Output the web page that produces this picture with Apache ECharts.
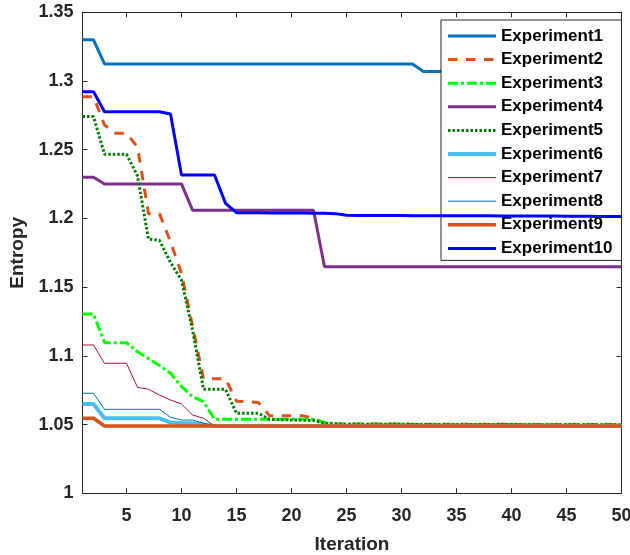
<!DOCTYPE html>
<html>
<head>
<meta charset="utf-8">
<script src="https://cdn.jsdelivr.net/npm/echarts@6/dist/echarts.min.js"></script>
<style>
  html, body { margin: 0; padding: 0; background: #fff; }
  #chart { width: 630px; height: 555px; }
</style>
</head>
<body>
<div id="chart"></div>
<script>
// iteration numbers 1..50
var iterations = [];
for (var i = 1; i <= 50; i++) iterations.push(String(i));

var yTicks = { min: 1, max: 1.35, step: 0.05 };

var exp1 = [1.33, 1.33, 1.3124, 1.3124, 1.3124, 1.3124, 1.3124, 1.3124, 1.3124, 1.3124,
  1.3124, 1.3124, 1.3124, 1.3124, 1.3124, 1.3124, 1.3124, 1.3124, 1.3124, 1.3124,
  1.3124, 1.3124, 1.3124, 1.3124, 1.3124, 1.3124, 1.3124, 1.3124, 1.3124, 1.3124,
  1.3124, 1.307, 1.307, 1.307, 1.307, 1.307, 1.307, 1.307, 1.307, 1.307,
  1.302, 1.302, 1.302, 1.302, 1.302, 1.302, 1.302, 1.302, 1.302, 1.302];
var exp2 = [1.2886, 1.2886, 1.268, 1.262, 1.262, 1.252, 1.2035, 1.2035, 1.183, 1.160,
  1.122, 1.0834, 1.0834, 1.0834, 1.067, 1.0667, 1.066, 1.0565, 1.0565, 1.0565,
  1.0565, 1.0545, 1.051, 1.0505, 1.0504, 1.0504, 1.0504, 1.0504, 1.0504, 1.0504,
  1.0502, 1.0502, 1.0502, 1.0502, 1.0502, 1.0502, 1.0502, 1.0502, 1.0502, 1.0502,
  1.050, 1.050, 1.050, 1.050, 1.050, 1.050, 1.050, 1.050, 1.050, 1.050];
var exp3 = [1.1305, 1.1305, 1.1096, 1.1096, 1.1096, 1.103, 1.098, 1.093, 1.0873, 1.0776,
  1.0703, 1.0667, 1.0538, 1.0538, 1.0538, 1.0538, 1.0538, 1.0538, 1.0538, 1.0538,
  1.0538, 1.0538, 1.0515, 1.0505, 1.0503, 1.0503, 1.0503, 1.0503, 1.0503, 1.0503,
  1.0501, 1.0501, 1.0501, 1.0501, 1.0501, 1.0501, 1.0501, 1.0501, 1.0501, 1.0501,
  1.0499, 1.0499, 1.0499, 1.0499, 1.0499, 1.0499, 1.0499, 1.0499, 1.0499, 1.0499];
var exp4 = [1.23, 1.23, 1.2251, 1.2251, 1.2251, 1.2251, 1.2251, 1.2251, 1.2251, 1.2251,
  1.206, 1.206, 1.206, 1.206, 1.206, 1.206, 1.206, 1.206, 1.206, 1.206,
  1.206, 1.206, 1.1649, 1.1649, 1.1649, 1.1649, 1.1649, 1.1649, 1.1649, 1.1649,
  1.1649, 1.1649, 1.1649, 1.1649, 1.1649, 1.1649, 1.1649, 1.1649, 1.1649, 1.1649,
  1.1649, 1.1649, 1.1649, 1.1649, 1.1649, 1.1649, 1.1649, 1.1649, 1.1649, 1.1649];
var exp5 = [1.2741, 1.2741, 1.2467, 1.2467, 1.2467, 1.231, 1.185, 1.184, 1.168, 1.155,
  1.119, 1.0757, 1.0757, 1.0757, 1.0582, 1.0582, 1.0582, 1.0538, 1.0536, 1.0534,
  1.0532, 1.053, 1.051, 1.0505, 1.0503, 1.0503, 1.0503, 1.0503, 1.0503, 1.0503,
  1.0501, 1.0501, 1.0501, 1.0501, 1.0501, 1.0501, 1.0501, 1.0501, 1.0501, 1.0501,
  1.0499, 1.0499, 1.0499, 1.0499, 1.0499, 1.0499, 1.0499, 1.0499, 1.0499, 1.0499];
var exp6 = [1.065, 1.065, 1.0546, 1.0546, 1.0546, 1.0546, 1.0546, 1.0546, 1.0515, 1.051,
  1.051, 1.050, 1.049, 1.049, 1.049, 1.049, 1.049, 1.049, 1.049, 1.049,
  1.049, 1.049, 1.049, 1.049, 1.049, 1.049, 1.049, 1.049, 1.049, 1.049,
  1.049, 1.049, 1.049, 1.049, 1.049, 1.049, 1.049, 1.049, 1.049, 1.049,
  1.049, 1.049, 1.049, 1.049, 1.049, 1.049, 1.049, 1.049, 1.049, 1.049];
var exp7 = [1.1079, 1.1079, 1.0946, 1.0946, 1.0946, 1.0771, 1.0757, 1.0715, 1.0679, 1.065,
  1.057, 1.0546, 1.049, 1.049, 1.049, 1.049, 1.049, 1.049, 1.049, 1.049,
  1.049, 1.049, 1.049, 1.049, 1.049, 1.049, 1.049, 1.049, 1.049, 1.049,
  1.049, 1.049, 1.049, 1.049, 1.049, 1.049, 1.049, 1.049, 1.049, 1.049,
  1.049, 1.049, 1.049, 1.049, 1.049, 1.049, 1.049, 1.049, 1.049, 1.049];
var exp8 = [1.0728, 1.0728, 1.0611, 1.0611, 1.0611, 1.0611, 1.0611, 1.0611, 1.0553, 1.0533,
  1.0533, 1.051, 1.049, 1.049, 1.049, 1.049, 1.049, 1.049, 1.049, 1.049,
  1.049, 1.049, 1.049, 1.049, 1.049, 1.049, 1.049, 1.049, 1.049, 1.049,
  1.049, 1.049, 1.049, 1.049, 1.049, 1.049, 1.049, 1.049, 1.049, 1.049,
  1.049, 1.049, 1.049, 1.049, 1.049, 1.049, 1.049, 1.049, 1.049, 1.049];
var exp9 = [1.0546, 1.0546, 1.049, 1.049, 1.049, 1.049, 1.049, 1.049, 1.049, 1.049,
  1.049, 1.049, 1.049, 1.049, 1.049, 1.049, 1.049, 1.049, 1.049, 1.049,
  1.049, 1.049, 1.049, 1.049, 1.049, 1.049, 1.049, 1.049, 1.049, 1.049,
  1.049, 1.049, 1.049, 1.049, 1.049, 1.049, 1.049, 1.049, 1.049, 1.049,
  1.049, 1.049, 1.049, 1.049, 1.049, 1.049, 1.049, 1.049, 1.049, 1.049];
var exp10 = [1.2922, 1.2922, 1.2777, 1.2777, 1.2777, 1.2777, 1.2777, 1.2777, 1.276, 1.2316,
  1.2316, 1.2316, 1.2316, 1.211, 1.2042, 1.2042, 1.2041, 1.204, 1.204, 1.2039,
  1.2039, 1.2038, 1.2037, 1.2035, 1.2023, 1.2022, 1.2022, 1.2021, 1.2021, 1.2021,
  1.202, 1.202, 1.202, 1.202, 1.202, 1.2019, 1.2019, 1.2019, 1.2018, 1.2018,
  1.2018, 1.2017, 1.2017, 1.2017, 1.2016, 1.2016, 1.2016, 1.2015, 1.2015, 1.2015];

var names = ['Experiment1', 'Experiment2', 'Experiment3', 'Experiment4', 'Experiment5',
  'Experiment6', 'Experiment7', 'Experiment8', 'Experiment9', 'Experiment10'];
var allData = [exp1, exp2, exp3, exp4, exp5, exp6, exp7, exp8, exp9, exp10];

// matlab-ish styles
var styles = [
  { color: '#0072BD', width: 3, type: 'solid' },
  { color: '#D95319', width: 3, type: [9.5, 8.5] },
  { color: '#00FF00', width: 3, type: [10, 3, 3, 3] },
  { color: '#7E2F8E', width: 3, type: 'solid' },
  { color: '#008000', width: 3, type: [2.5, 2] },
  { color: '#4DBEEE', width: 4, type: 'solid' },
  { color: '#A2142F', width: 1, type: 'solid' },
  { color: '#0072BD', width: 1, type: 'solid' },
  { color: '#D95319', width: 3.5, type: 'solid' },
  { color: '#0000FF', width: 3, type: 'solid' }
];

var font = 'Liberation Sans, Arial, Helvetica, sans-serif';
var axisColor = '#262626';

function every5(idx) { return (idx + 1) % 5 === 0; }

var series = [];
for (var k = 0; k < names.length; k++) {
  series.push({
    name: names[k],
    type: 'line',
    symbol: 'none',
    data: allData[k],
    lineStyle: { color: styles[k].color, width: styles[k].width, type: styles[k].type },
    itemStyle: { color: styles[k].color },
    z: 2 + k
  });
}

var myChart = echarts.init(document.getElementById('chart'));
var option = {
  animation: false,
  backgroundColor: '#fff',
  grid: { left: 82.5, right: 8.5, top: 12.3, bottom: 61.7, outerBoundsMode: 'none' },
  legend: {
    orient: 'vertical',
    left: 441,
    top: 20,
    itemWidth: 48,
    itemHeight: 14,
    itemGap: 6.6,
    padding: [7.5, 9, 3.5, 5],
    borderColor: axisColor,
    borderWidth: 1,
    backgroundColor: '#fff',
    itemStyle: { opacity: 0 },          // hide the circle, keep the line
    lineStyle: { width: 'inherit' },    // same thickness as the series
    textStyle: { fontFamily: font, fontWeight: 'bold', fontSize: 17, color: '#000' },
    data: names
  },
  xAxis: [
    {
      type: 'category',
      data: iterations,
      boundaryGap: false,
      name: 'Iteration',
      nameLocation: 'middle',
      nameGap: 42,
      nameTextStyle: { fontFamily: font, fontWeight: 'bold', fontSize: 19, color: axisColor },
      axisLine: { lineStyle: { color: axisColor, width: 1 } },
      axisTick: { inside: true, length: 5, interval: every5, lineStyle: { color: axisColor } },
      axisLabel: { interval: every5, margin: 14, fontFamily: font, fontWeight: 'bold', fontSize: 18, color: axisColor },
      splitLine: { show: false }
    },
    {
      type: 'category',
      data: iterations,
      boundaryGap: false,
      position: 'top',
      axisLine: { lineStyle: { color: axisColor, width: 1 } },
      axisTick: { inside: true, length: 5, interval: every5, lineStyle: { color: axisColor } },
      axisLabel: { show: false },
      splitLine: { show: false }
    }
  ],
  yAxis: [
    {
      type: 'value',
      min: yTicks.min,
      max: yTicks.max,
      interval: yTicks.step,
      name: 'Entropy',
      nameLocation: 'middle',
      nameGap: 43,
      nameTextStyle: { fontFamily: font, fontWeight: 'bold', fontSize: 19, color: axisColor },
      axisLine: { show: true, lineStyle: { color: axisColor, width: 1 } },
      axisTick: { show: true, inside: true, length: 5, lineStyle: { color: axisColor } },
      axisLabel: { margin: 9, fontFamily: font, fontWeight: 'bold', fontSize: 18, color: axisColor },
      splitLine: { show: false }
    },
    {
      type: 'value',
      min: yTicks.min,
      max: yTicks.max,
      interval: yTicks.step,
      position: 'right',
      axisLine: { show: true, lineStyle: { color: axisColor, width: 1 } },
      axisTick: { show: true, inside: true, length: 5, lineStyle: { color: axisColor } },
      axisLabel: { show: false },
      splitLine: { show: false }
    }
  ],
  series: series
};
myChart.setOption(option);
</script>
</body>
</html>
